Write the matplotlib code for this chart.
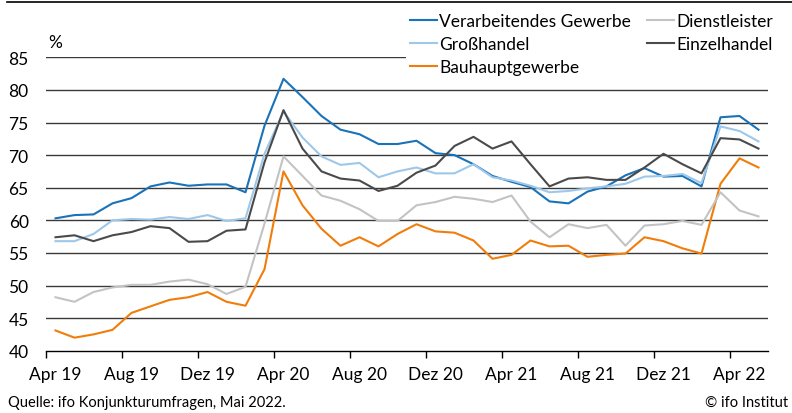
import matplotlib
matplotlib.use("Agg")
import matplotlib.pyplot as plt
from matplotlib.lines import Line2D
import numpy as np

plt.rcParams['font.family'] = ['Lato', 'DejaVu Sans']

# monthly, Apr 2019 .. May 2022
months = np.arange(38)
tick_labels = ['Apr 19', 'Aug 19', 'Dez 19', 'Apr 20', 'Aug 20',
               'Dez 20', 'Apr 21', 'Aug 21', 'Dez 21', 'Apr 22']

verarbeitendes = [60.3, 60.8, 60.9, 62.6, 63.4, 65.2, 65.8, 65.3, 65.5, 65.5,
                  64.3, 74.5, 81.7, 78.9, 76.0, 73.9, 73.2, 71.7, 71.7, 72.2,
                  70.3, 70.0, 68.6, 66.8, 65.9, 65.1, 62.9, 62.6, 64.4, 65.2,
                  66.9, 68.0, 66.7, 66.8, 65.2, 75.8, 76.0, 73.9]
grosshandel = [56.8, 56.8, 57.9, 60.0, 60.2, 60.1, 60.5, 60.2, 60.8, 59.9,
               60.3, 70.2, 76.7, 72.7, 69.8, 68.5, 68.8, 66.6, 67.5, 68.1,
               67.2, 67.2, 68.6, 66.6, 66.1, 65.3, 64.3, 64.5, 64.9, 65.2,
               65.6, 66.7, 66.8, 67.1, 65.7, 74.4, 73.7, 72.1]
bauhaupt = [43.1, 42.0, 42.5, 43.2, 45.8, 46.8, 47.8, 48.2, 49.0, 47.5,
            46.9, 52.5, 67.5, 62.3, 58.7, 56.1, 57.4, 56.0, 57.9, 59.4,
            58.3, 58.1, 56.9, 54.1, 54.7, 56.9, 56.0, 56.1, 54.4, 54.7,
            54.9, 57.4, 56.8, 55.7, 54.9, 65.6, 69.5, 68.1]
dienstleister = [48.2, 47.5, 49.0, 49.7, 50.1, 50.1, 50.6, 50.9, 50.2, 48.7,
                 49.8, 59.5, 69.8, 66.8, 63.8, 63.0, 61.7, 59.9, 59.9, 62.3,
                 62.8, 63.6, 63.3, 62.8, 63.8, 59.8, 57.4, 59.4, 58.8, 59.3,
                 56.1, 59.2, 59.4, 59.9, 59.3, 64.3, 61.5, 60.6]
einzelhandel = [57.4, 57.7, 56.8, 57.7, 58.2, 59.1, 58.8, 56.7, 56.8, 58.4,
                58.6, 68.9, 76.9, 71.0, 67.5, 66.4, 66.1, 64.5, 65.3, 67.3,
                68.4, 71.4, 72.8, 71.0, 72.1, 68.6, 65.2, 66.4, 66.6, 66.2,
                66.2, 68.1, 70.2, 68.6, 67.2, 72.6, 72.4, 71.0]

fig = plt.figure(figsize=(7.92, 4.14), dpi=100)
ax = fig.add_axes([46/792, 1 - 351.7/414, 722/792, 293.4/414])

# grid lines drawn by hand so they sit under the data
for v in range(45, 90, 5):
    ax.axhline(v, color='#3a3a3a', lw=1.0, zorder=1)

lw = 1.5
ax.plot(months, verarbeitendes, color='#1a72b8', lw=lw, label='Verarbeitendes Gewerbe', zorder=3)
ax.plot(months, grosshandel, color='#9ec8ea', lw=lw, label='Großhandel', zorder=3)
ax.plot(months, bauhaupt, color='#f07d0a', lw=lw, label='Bauhauptgewerbe', zorder=3)
ax.plot(months, dienstleister, color='#c3c3c3', lw=lw, label='Dienstleister', zorder=3)
ax.plot(months, einzelhandel, color='#4a4a4a', lw=lw, label='Einzelhandel', zorder=3)

ax.set_xlim(-0.5, 37.5)
ax.set_ylim(40, 85)
ax.set_yticks(range(40, 90, 5))
ax.tick_params(axis='y', length=0, pad=12.5, labelsize=12.5)

# ticks at month boundaries, labels centred on the month
ax.set_xticks(np.arange(-0.5, 36, 4))
ax.set_xticklabels([])
ax.set_xticks(np.arange(0, 37, 4), minor=True)
ax.set_xticklabels(tick_labels, minor=True, fontsize=12.5)
ax.tick_params(axis='x', which='major', length=5, width=1, color='black', direction='out')
ax.tick_params(axis='x', which='minor', length=0, pad=11)

for s in ['left', 'right', 'top']:
    ax.spines[s].set_visible(False)
ax.spines['bottom'].set_color('black')
ax.spines['bottom'].set_linewidth(1.0)
ax.spines['bottom'].set_zorder(4)

fig.text(48/792, 1 - 43/414, '%', fontsize=12.5, va='center', ha='left')

leg = ax.legend(ncol=2, loc='upper left', bbox_to_anchor=(406/792, 1 - 10/414),
                bbox_transform=fig.transFigure, fontsize=12.5, frameon=True,
                handlelength=1.55, handletextpad=0.12, columnspacing=0.92,
                labelspacing=0.39, borderaxespad=0, borderpad=0.25)
leg.get_frame().set_facecolor('white')
leg.get_frame().set_edgecolor('none')
leg.get_frame().set_alpha(1)
leg.get_frame().set_boxstyle('square', pad=0)
leg.set_zorder(5)

fig.add_artist(Line2D([7/792, 1], [1 - 3/414, 1 - 3/414], color='black', lw=1.2))

fig.text(8/792, 1 - 403/414, 'Quelle: ifo Konjunkturumfragen, Mai 2022.', fontsize=10.5,
         va='center', ha='left')
fig.text(1 - 4/792, 1 - 403/414, '© ifo Institut', fontsize=10.5, va='center', ha='right')

fig.savefig('out.png', dpi=100)
